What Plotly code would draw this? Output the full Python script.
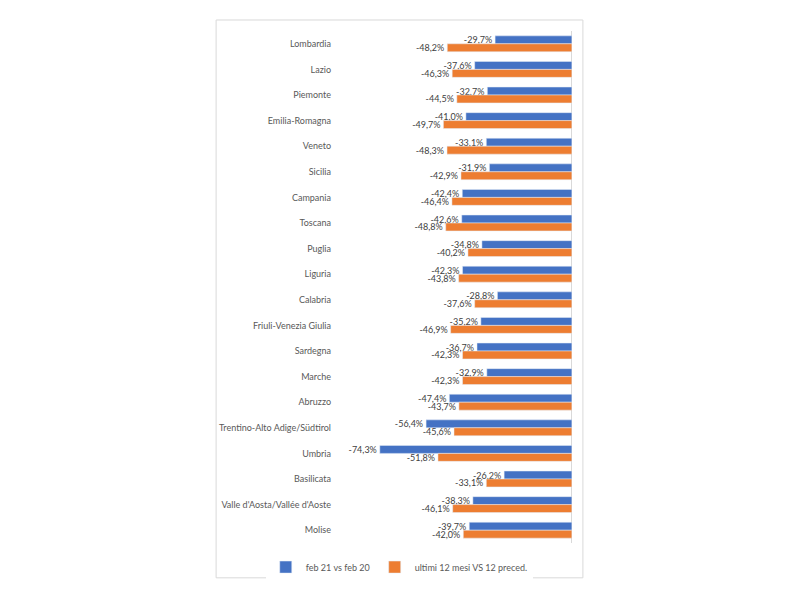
import plotly.graph_objects as go

regions = ["Lombardia", "Lazio", "Piemonte", "Emilia-Romagna", "Veneto", "Sicilia",
           "Campania", "Toscana", "Puglia", "Liguria", "Calabria", "Friuli-Venezia Giulia",
           "Sardegna", "Marche", "Abruzzo", "Trentino-Alto Adige/Südtirol", "Umbria",
           "Basilicata", "Valle d'Aosta/Vallée d'Aoste", "Molise"]
feb = [-29.7, -37.6, -32.7, -41.0, -33.1, -31.9, -42.4, -42.6, -34.8, -42.3, -28.8, -35.2,
       -36.7, -32.9, -47.4, -56.4, -74.3, -26.2, -38.3, -39.7]
ultimi = [-48.2, -46.3, -44.5, -49.7, -48.3, -42.9, -46.4, -48.8, -40.2, -43.8, -37.6, -46.9,
          -42.3, -42.3, -43.7, -45.6, -51.8, -33.1, -46.1, -42.0]

def fmt(v):
    return f"{v:.1f}".replace(".", ",") + "%"

fig = go.Figure()
fig.add_trace(go.Bar(y=regions, x=feb, orientation="h", name="feb 21 vs feb 20",
                     marker_color="#4472C4", text=[fmt(v) for v in feb],
                     textposition="outside", cliponaxis=False, constraintext="none",
                     textfont=dict(size=9, color="#404040")))
fig.add_trace(go.Bar(y=regions, x=ultimi, orientation="h", name="ultimi 12 mesi VS 12 preced.",
                     marker_color="#ED7D31", text=[fmt(v) for v in ultimi],
                     textposition="outside", cliponaxis=False, constraintext="none",
                     textfont=dict(size=9, color="#404040")))

fig.update_layout(
    width=800, height=600,
    margin=dict(l=332, r=236, t=23, b=65, autoexpand=False),
    paper_bgcolor="white", plot_bgcolor="white",
    font=dict(family="Lato, Open Sans, sans-serif", size=9, color="#595959"),
    barmode="group", bargap=0.38, bargroupgap=0,
    showlegend=True,
    legend=dict(orientation="h", x=-0.32, xanchor="left",
                y=-0.047, yanchor="middle",
                font=dict(size=9, color="#595959"), itemwidth=30, tracegroupgap=0),
)
fig.update_xaxes(range=[-89.7, 0.05], showticklabels=False, showgrid=False,
                 zeroline=True, zerolinecolor="#d9d9d9", zerolinewidth=1, fixedrange=True)
fig.update_yaxes(autorange="reversed", showgrid=False, ticks="", ticklabelstandoff=8,
                 tickfont=dict(size=9, color="#595959"))
fig.add_shape(type="rect", xref="paper", yref="paper", x0=-0.534, x1=1.047, y0=-0.068, y1=1.0215,
              line=dict(color="#d9d9d9", width=1), fillcolor="rgba(0,0,0,0)")
fig.write_html("out.html")
